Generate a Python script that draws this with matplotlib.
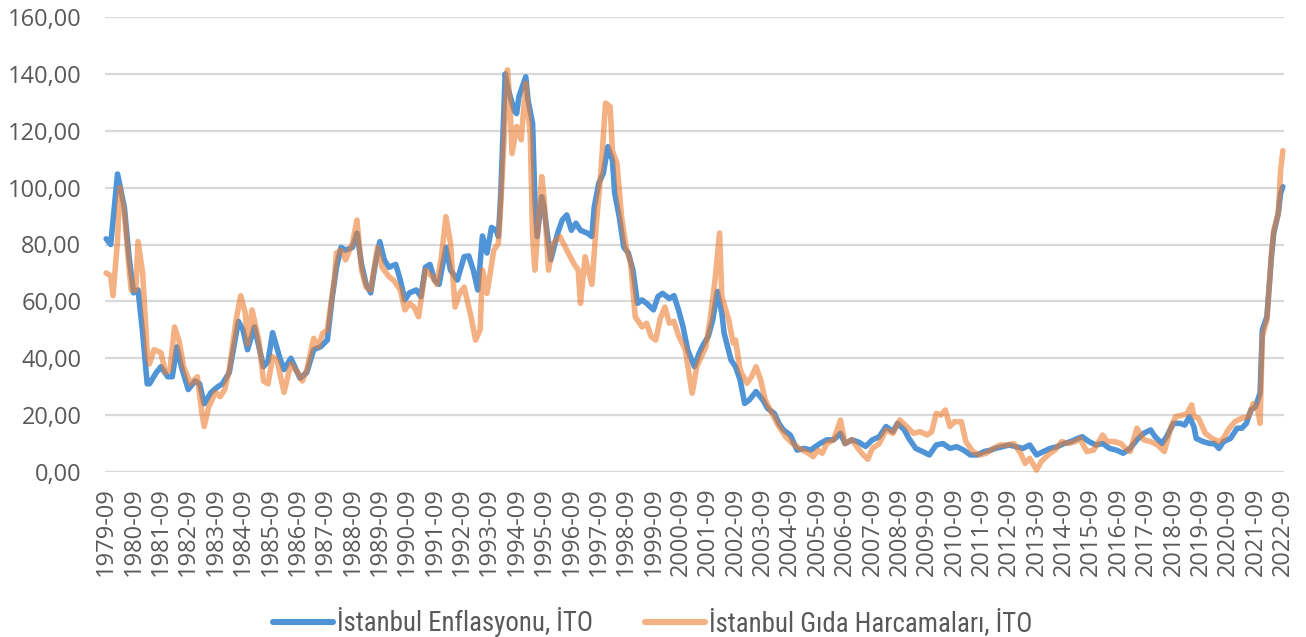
import matplotlib
matplotlib.use("Agg")
import matplotlib.pyplot as plt
from matplotlib import font_manager
from matplotlib.lines import Line2D

# ---- data (month index counted from 1979-09 = 0) ----
blue_months = [0, 2, 5, 8, 10, 12, 14, 16, 18, 19, 22, 24, 27, 29, 31, 33, 36, 39, 41, 43, 46, 49, 51, 54, 56, 58, 60, 62, 65, 67,
               69, 71, 73, 76, 78, 81, 85, 88, 91, 94, 97, 99, 101, 103, 105, 108, 110, 112, 114, 116, 118, 120, 122, 124, 127,
               129, 131, 133, 136, 138, 140, 142, 144, 146, 149, 151, 154, 157, 159, 161, 163, 165, 167, 169, 171, 172, 173, 175,
               176, 179, 180, 181, 184, 185, 187, 188, 189, 191, 192, 194, 195, 198, 200, 202, 204, 206, 208, 211, 213, 214, 216,
               218, 220, 222, 223, 225, 227, 229, 231, 233, 235, 237, 240, 242, 244, 247, 249, 251, 253, 255, 258, 260, 262, 264,
               266, 268, 270, 271, 274, 276, 278, 280, 282, 285, 288, 290, 293, 295, 297, 300, 303, 306, 309, 311, 313, 316, 319,
               322, 324, 327, 330, 333, 336, 339, 342, 345, 347, 350, 352, 355, 358, 361, 364, 367, 370, 373, 376, 379, 382, 385,
               388, 390, 393, 396, 399, 402, 405, 408, 411, 414, 417, 420, 423, 426, 428, 431, 434, 437, 440, 443, 446, 449, 452,
               455, 458, 460, 463, 465, 468, 471, 473, 475, 477, 478, 481, 484, 486, 488, 490, 493, 496, 498, 500, 502, 504, 506,
               507, 509, 511, 512, 514, 515, 516]
blue_values = [82, 80, 104.8, 93, 76, 63, 64, 49, 31, 31, 35, 37, 33.5, 33.5, 44, 37, 29, 32, 31, 24, 28, 30, 31, 35, 44, 53, 50, 43,
               51, 44, 37, 39, 49, 40.5, 36, 40, 33, 35, 43, 44, 46.4, 60.5, 72, 79, 78, 79, 84, 73, 66, 63, 73, 81, 74.5, 72, 73,
               67.5, 60.5, 63, 64, 61.7, 72, 73, 67.5, 66, 79, 71, 67.5, 75.7, 76, 71, 64, 83, 77, 86, 85, 82.8, 97, 140, 135.5,
               127, 126, 132, 139, 130.8, 122.6, 95.7, 82.8, 96.8, 93, 80.4, 74.6, 84, 88.6, 90.4, 85, 87.5, 85, 84, 82.8, 93,
               101.5, 105, 114.4, 109.7, 98, 89.8, 79, 77, 71, 59.3, 60.5, 59.3, 57, 61.7, 62.8, 61, 62, 57, 51, 43, 37, 41.7, 45,
               47.6, 53.5, 63.5, 55.8, 48.8, 39.4, 37, 32.4, 24.1, 25.3, 28.3, 25.3, 22.4, 20.6, 17.1, 14.8, 13, 7.7, 8.3, 7.7,
               8.9, 10, 11.3, 11.3, 13.6, 10, 11.3, 10.5, 9, 11.3, 12.4, 16, 14.2, 17.1, 14.8, 11.8, 8.3, 7.2, 6, 9.5, 10, 8.3,
               8.9, 7.7, 6, 6, 7.2, 7.7, 8.3, 8.9, 9.5, 8.9, 8.3, 9.5, 6, 7.2, 8.3, 8.9, 10, 10.7, 11.8, 12.4, 10.7, 9.5, 10, 8.3,
               7.7, 6.6, 8.3, 11.3, 13.6, 14.8, 12.4, 10, 12.4, 17.1, 17.1, 16.5, 19.5, 15.9, 11.8, 10.7, 10, 10, 8.3, 10.7, 11.8,
               15.4, 15.4, 17.1, 21.8, 23, 27.7, 50, 54.6, 75.7, 84, 91, 98, 100.3]

orange_months = [0, 2, 3, 5, 6, 8, 10, 11, 13, 14, 16, 18, 19, 21, 24, 26, 28, 30, 32, 34, 37, 40, 42, 43, 45, 48, 50, 52, 54, 57,
                 59, 61, 62, 64, 67, 69, 71, 73, 75, 78, 81, 84, 86, 88, 91, 93, 95, 97, 100, 101, 103, 105, 108, 110, 112, 114,
                 116, 119, 121, 124, 126, 129, 131, 133, 135, 137, 140, 143, 145, 147, 149, 151, 153, 155, 157, 160, 162, 164, 165,
                 167, 170, 172, 173, 176, 177, 178, 180, 182, 184, 186, 187, 188, 191, 192, 194, 196, 199, 202, 205, 207, 208, 210,
                 213, 215, 217, 219, 221, 222, 224, 226, 228, 230, 232, 235, 237, 239, 241, 243, 245, 247, 249, 251, 254, 256, 257,
                 259, 261, 263, 265, 267, 269, 270, 273, 275, 276, 278, 281, 283, 285, 287, 289, 292, 295, 298, 301, 304, 308, 310,
                 312, 314, 316, 319, 322, 324, 327, 330, 332, 334, 336, 339, 342, 345, 348, 351, 354, 357, 360, 362, 364, 366, 368,
                 370, 372, 375, 377, 380, 383, 386, 389, 392, 395, 398, 401, 403, 405, 408, 410, 413, 416, 419, 422, 425, 427, 430,
                 433, 437, 439, 442, 445, 447, 449, 452, 455, 458, 461, 464, 467, 469, 472, 474, 476, 477, 479, 482, 485, 488, 490,
                 492, 495, 498, 501, 503, 505, 506, 507, 509, 511, 512, 514, 515, 516]
orange_values = [70, 69, 62, 81.5, 100, 91, 72, 64, 64, 81, 70, 42, 38, 43, 42, 35, 36, 51, 46, 37, 31, 33.5, 20.7, 16, 23, 28, 26.5,
                 29, 36, 53.5, 62, 56, 45, 57, 46, 32, 31, 40.6, 39, 28, 38, 35, 32, 36, 47, 44, 48.8, 50, 67.5, 77, 78, 74.6, 80.4,
                 88.6, 71, 65, 64, 79, 72, 68.7, 67.5, 64, 57, 59.3, 58, 54.6, 71, 68.7, 66, 75.7, 89.8, 80.4, 58, 62.8, 65, 54.6,
                 46.4, 50, 71, 62.8, 78, 80.4, 93, 141.4, 130.8, 112, 121.5, 116.8, 136.7, 118, 82.8, 71, 103.9, 96.8, 71, 80.4,
                 82.8, 78, 73.4, 71, 59.3, 75.7, 66, 87.5, 106, 129.7, 128.5, 113, 108.6, 89.8, 79, 73.4, 54.6, 51, 52.3, 47.6,
                 46.4, 54, 58, 52.3, 53, 48, 43, 32.4, 27.7, 37, 40.6, 44, 54.6, 67.5, 84, 61.7, 53.5, 45.3, 46.4, 35.9, 31.2, 33.5,
                 37, 32.4, 25.3, 20.6, 16, 12.4, 10, 8.3, 6.6, 5.4, 7.7, 6.6, 10, 11.3, 18.3, 10, 11.3, 8, 6, 4.5, 8.3, 10, 14.8,
                 13.6, 18.3, 16, 13.6, 14.2, 13, 14.2, 20.6, 20, 21.8, 16, 17.7, 17.7, 10.7, 7.2, 6, 6.6, 8.3, 9.5, 9.5, 10, 6.6, 3,
                 4.8, 0.7, 3.6, 6, 7.7, 10.7, 10, 10.7, 11.8, 7.2, 7.7, 13, 10.7, 10.7, 10, 8.3, 7.2, 15.4, 11.3, 10.7, 9.5, 7.2,
                 15.9, 19.5, 20, 20.6, 23.6, 19.5, 18.9, 13.6, 11.8, 10.7, 11.8, 14.8, 17.7, 18.9, 19.5, 24.1, 21.8, 17.1, 47.6,
                 53.5, 77, 85, 91, 106, 113]

series_names = ["İstanbul Enflasyonu, İTO", "İstanbul Gıda Harcamaları, İTO"]
tick_years = list(range(1979, 2023))
tick_labels = [f"{y}-09" for y in tick_years]
ytick_values = [0, 20, 40, 60, 80, 100, 120, 140, 160]
ytick_labels = ["0,00", "20,00", "40,00", "60,00", "80,00", "100,00", "120,00", "140,00", "160,00"]

# ---- style ----
text_color = "#595959"
grid_color = "#D9D9D9"
blue = "#4F94D6"
orange = "#ED7D31"
orange_alpha = 0.6

available = {f.name for f in font_manager.fontManager.ttflist}
tick_font = "Open Sans" if "Open Sans" in available else "DejaVu Sans"
legend_font = tick_font
for cand in ["Liberation Sans Narrow", "Roboto Condensed", "Open Sans Condensed", "Open Sans"]:
    if cand in available:
        legend_font = cand
        break

W, H, DPI = 1306, 637, 100
fig = plt.figure(figsize=(W / DPI, H / DPI), dpi=DPI)
fig.patch.set_facecolor("white")
ax = fig.add_axes([105 / W, 1 - 472 / H, (1284 - 105) / W, (472 - 17) / H])

ax.set_ylim(0, 160)
ax.set_xlim(-0.5, 516.5)
for v in ytick_values:
    ax.axhline(v, color=grid_color, lw=1.6, zorder=0)

ax.plot(blue_months, blue_values, color=blue, lw=4.0, solid_joinstyle="round",
        solid_capstyle="round", clip_on=False, zorder=2)
ax.plot(orange_months, orange_values, color=orange, alpha=orange_alpha, lw=4.0, solid_joinstyle="round",
        solid_capstyle="round", clip_on=False, zorder=3)

for s in ax.spines.values():
    s.set_visible(False)

ax.set_yticks(ytick_values)
ax.set_yticklabels(ytick_labels, fontfamily=tick_font, fontsize=17, color=text_color)
ax.set_xticks([12 * i for i in range(len(tick_labels))])
ax.set_xticklabels(tick_labels, rotation=90, fontfamily=tick_font, fontsize=17, color=text_color)
ax.tick_params(axis="y", length=0, pad=17)
ax.tick_params(axis="x", length=0, pad=11)

# legend font size fitted to the reference text width (~258 px)
renderer = fig.canvas.get_renderer()
probe = fig.text(0, 0, series_names[0], fontfamily=legend_font, fontsize=14)
wpx = probe.get_window_extent(renderer=renderer).width
probe.remove()
leg_size = 14 * 258 / wpx
fs_px = leg_size * DPI / 72.0

handles = [Line2D([], [], color=blue, lw=4.4, solid_capstyle="round"),
           Line2D([], [], color=orange, alpha=orange_alpha, lw=4.4, solid_capstyle="round")]
fig.legend(handles=handles, labels=series_names, loc="center", bbox_to_anchor=(0.5, 1 - 622 / H), ncol=2,
           frameon=False, prop={"family": legend_font, "size": leg_size}, labelcolor=text_color,
           handlelength=60 / fs_px, handletextpad=4 / fs_px, columnspacing=52 / fs_px,
           borderpad=0, borderaxespad=0)

fig.savefig("out.png", dpi=DPI, facecolor="white")
